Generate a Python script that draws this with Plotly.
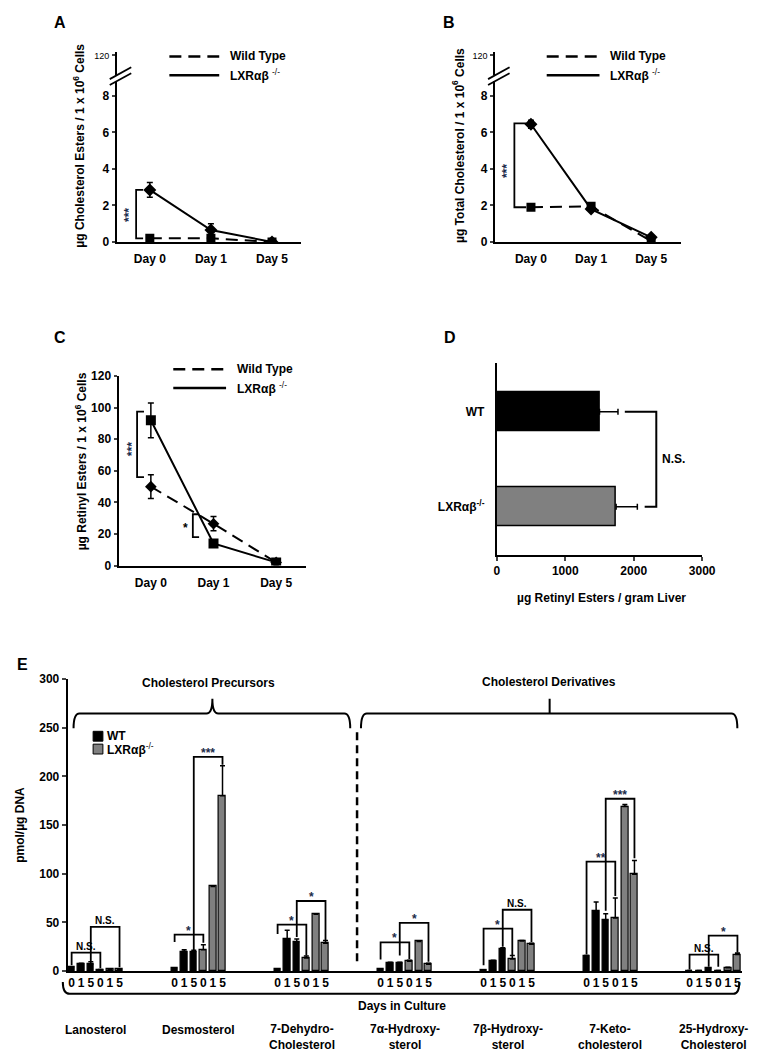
import plotly.graph_objects as go

W, H = 758, 1050

# ---- data ----
days = ["Day 0", "Day 1", "Day 5"]

# A: cholesterol esters (ug / 1e6 cells)
ce_wt = [0.2, 0.2, 0.0]
ce_wt_err = [0.05, 0.08, 0.02]
ce_ko = [2.85, 0.65, 0.0]
ce_ko_err = [0.4, 0.35, 0.05]

# B: total cholesterol
tc_wt = [1.9, 1.95, 0.05]
tc_wt_err = [0.1, 0.1, 0.05]
tc_ko = [6.45, 1.8, 0.25]
tc_ko_err = [0.22, 0.12, 0.1]

# C: retinyl esters
re_wt = [50, 26.5, 2]
re_wt_err = [7.5, 4.5, 1]
re_ko = [92, 14, 2]
re_ko_err = [11, 1, 1]

# D: whole liver retinyl esters
liver_groups = ["LXRαβ<sup>-/-</sup>", "WT"]
liver_re = [1743, 1500]
liver_re_err = [310, 270]

# E: sterols, pmol/ug DNA (days 0, 1, 5)
sterols = ["Lanosterol", "Desmosterol", "7-Dehydro-<br>Cholesterol", "7α-Hydroxy-<br>sterol",
           "7β-Hydroxy-<br>sterol", "7-Keto-<br>cholesterol", "25-Hydroxy-<br>Cholesterol"]
culture_days = ["0", "1", "5"]
sterol_wt = [[4, 7, 7], [3, 20, 20], [2, 33, 30], [2, 8, 8], [1, 10, 23], [15, 62, 52.5], [0.5, 0.5, 3]]
sterol_wt_err = [[0.5, 1, 2.5], [0.5, 2, 1.5], [0.3, 9, 3], [0.3, 1, 1], [0.3, 1, 1], [1, 9, 6.5], [0.2, 0.2, 0.5]]
sterol_ko = [[1.5, 2, 2], [22, 87, 180], [13.5, 58.5, 28.5], [10, 30.5, 7], [12.5, 31, 27.5], [54.5, 169, 99.5], [0.5, 3.5, 17]]
sterol_ko_err = [[0.2, 0.2, 0.2], [5, 0.5, 31], [2, 0.5, 3], [1, 0.3, 1], [3.5, 0.5, 1], [20.5, 2, 14], [0.2, 0.5, 1.5]]

# E significance brackets: group, day index (WT vs LXR), label, bracket height, leg bottoms
cmp_group = [0, 0, 1, 1, 2, 2, 3, 3, 4, 4, 5, 5, 6, 6]
cmp_day = [0, 2, 0, 2, 0, 2, 0, 2, 0, 2, 0, 2, 0, 2]
cmp_label = ["N.S.", "N.S.", "*", "***", "*", "*", "*", "*", "*", "N.S.", "**", "***", "N.S.", "*"]
cmp_height = [19, 45.5, 37.5, 220, 47.7, 72, 29.4, 49.6, 43.6, 63, 112.5, 177, 17, 36.5]
cmp_left_end = [6, 10, 30, 21, 38, 35, 12, 16, 6, 25, 17, 62, 1.5, 4.5]
cmp_right_end = [3, 4, 29, 212, 16, 32, 12.5, 9.5, 16, 30, 77, 116, 4.5, 19]

FONT = "Liberation Sans, Arial, sans-serif"
STAR_COL = "#1c2b4a"


def X(px):
    return px / W


def Y(py):
    return 1 - py / H


fig = go.Figure()

line_err = dict(type="data", thickness=1.5, width=3, color="black")


def add_lines(xa, ya, wt, wt_err, ko, ko_err, wt_sym, ko_sym):
    xs = list(range(len(days)))
    fig.add_trace(go.Scatter(x=xs, y=wt, mode="lines+markers", xaxis=xa, yaxis=ya,
                             line=dict(color="black", width=2, dash="12px,7px"),
                             marker=dict(symbol=wt_sym, size=9, color="black"),
                             error_y=dict(array=wt_err, **line_err), name="Wild Type"))
    fig.add_trace(go.Scatter(x=xs, y=ko, mode="lines+markers", xaxis=xa, yaxis=ya,
                             line=dict(color="black", width=2),
                             marker=dict(symbol=ko_sym, size=10, color="black"),
                             error_y=dict(array=ko_err, **line_err), name="LXRαβ -/-"))


add_lines("x", "y", ce_wt, ce_wt_err, ce_ko, ce_ko_err, "square", "diamond")
add_lines("x2", "y2", tc_wt, tc_wt_err, tc_ko, tc_ko_err, "square", "diamond")
add_lines("x3", "y3", re_wt, re_wt_err, re_ko, re_ko_err, "diamond", "square")

# D
fig.add_trace(go.Bar(y=[0, 1], x=liver_re, orientation="h", xaxis="x4", yaxis="y4", width=0.415,
                     marker=dict(color=["#808080", "black"], line=dict(color="black", width=1.5)),
                     error_x=dict(type="data", array=liver_re_err, arrayminus=[0, 0], symmetric=False,
                                  thickness=1.5, width=3, color="black")))

# E
P = 10.75
x_wt = [g * P + j for g in range(len(sterols)) for j in range(3)]
x_ko = [g * P + 3 + j for g in range(len(sterols)) for j in range(3)]
bar_err = dict(type="data", symmetric=False, thickness=1.5, width=2.5, color="black")
fig.add_trace(go.Bar(x=x_wt, y=[v for r in sterol_wt for v in r], xaxis="x5", yaxis="y5", width=0.7,
                     marker=dict(color="black", line=dict(color="black", width=1.2)),
                     error_y=dict(array=[v for r in sterol_wt_err for v in r], arrayminus=[0] * 21, **bar_err),
                     name="WT"))
fig.add_trace(go.Bar(x=x_ko, y=[v for r in sterol_ko for v in r], xaxis="x5", yaxis="y5", width=0.7,
                     marker=dict(color="#808080", line=dict(color="black", width=1.2)),
                     error_y=dict(array=[v for r in sterol_ko_err for v in r], arrayminus=[0] * 21, **bar_err),
                     name="LXRαβ-/-"))

shapes = []
annotations = []


def ann(text, x, y, xref="paper", yref="paper", size=12, **kw):
    d = dict(text=text, x=x, y=y, xref=xref, yref=yref, showarrow=False,
             xanchor="center", yanchor="middle",
             font=dict(family=FONT, size=size, color=kw.pop("color", "black")))
    d.update(kw)
    annotations.append(d)


def path_px(pts, **kw):
    # pts: list of (cmd, [(x,y),...]) in pixels
    s = ""
    for cmd, coords in pts:
        s += cmd + " " + " ".join(f"{X(a):.5f},{Y(b):.5f}" for a, b in coords) + " "
    shapes.append(dict(type="path", path=s.strip(), xref="paper", yref="paper",
                       line=dict(color="black", width=kw.get("width", 2))))


# panel letters
ann("<b>A</b>", X(50), Y(8), size=16)
ann("<b>B</b>", X(448), Y(8), size=16)
ann("<b>C</b>", X(50), Y(327), size=16)
ann("<b>D</b>", X(449), Y(327), size=16)
ann("<b>E</b>", X(12), Y(658), size=16)

# custom legends for A, B, C
for lx0, lx1, ly in [(162, 213, 42), (548, 602, 42), (166, 220, 359)]:
    shapes.append(dict(type="line", xref="paper", yref="paper", x0=X(lx0), x1=X(lx1), y0=Y(ly), y1=Y(ly),
                       line=dict(color="black", width=2.5, dash="12px,7px")))
    shapes.append(dict(type="line", xref="paper", yref="paper", x0=X(lx0), x1=X(lx1), y0=Y(ly + 19), y1=Y(ly + 19),
                       line=dict(color="black", width=2.5)))
    ann("<b>Wild Type</b>", X(lx1 + 9), Y(ly), xanchor="left")
    ann("<b>LXRαβ</b> <sup>-/-</sup>", X(lx1 + 9), Y(ly + 19), xanchor="left")

# axis breaks on A and B
for axx in [108, 495]:
    shapes.append(dict(type="rect", xref="paper", yref="paper", x0=X(axx - 3), x1=X(axx + 3),
                       y0=Y(67), y1=Y(61), fillcolor="white", line=dict(width=0)))
    for off in [0, 6]:
        shapes.append(dict(type="line", xref="paper", yref="paper", x0=X(axx - 7), y0=Y(65 + off),
                           x1=X(axx + 15), y1=Y(53 + off), line=dict(color="black", width=1.8)))

# y titles for A, B, C
ann("<b>µg Cholesterol Esters / 1 x 10<sup>6</sup> Cells</b>", X(70), Y(132), size=12, textangle=-90)
ann("<b>µg Total Cholesterol / 1 x 10<sup>6</sup> Cells</b>", X(458), Y(132), size=12, textangle=-90)
ann("<b>µg Retinyl Esters / 1 x 10<sup>6</sup> Cells</b>", X(72), Y(452), size=12, textangle=-90)


# vertical significance brackets on line panels
def vbracket(xa, ya, xb, arm, y0, y1, label, xl, yl, rot):
    shapes.append(dict(type="path", xref=xa, yref=ya,
                       path=f"M {arm},{y0} L {xb},{y0} L {xb},{y1} L {arm},{y1}",
                       line=dict(color="black", width=1.8)))
    ann(f"<b>{label}</b>", xl, yl, xref=xa, yref=ya, size=12, textangle=-90 if rot else 0,
        color=STAR_COL if rot else "black")


vbracket("x", "y", -0.224, -0.11, ce_wt[0], ce_ko[0], "***", -0.35, 1.5, True)
vbracket("x2", "y2", -0.276, -0.08, tc_wt[0], tc_ko[0] + 0.05, "***", -0.41, 3.9, True)
vbracket("x3", "y3", -0.22, -0.11, 56, 97.5, "***", -0.31, 74, True)
vbracket("x3", "y3", 0.67, 0.77, 18, 32.5, "*", 0.55, 24, False)

# D extras
ann("<b>Whole Liver</b>", 1430, 1.55, xref="x4", yref="y4")
shapes.append(dict(type="path", xref="x4", yref="y4",
                   path="M 1870,1 L 2330,1 L 2330,0 L 2160,0", line=dict(color="black", width=2)))
ann("<b>N.S.</b>", 2390, 0.5, xref="x4", yref="y4", xanchor="left")
ann("<b>µg Retinyl Esters / gram Liver</b>", X(604), Y(591))

# E extras
ann("<b>pmol/µg DNA</b>", X(9), Y(821), textangle=-90)
ann("<b>Cholesterol Precursors</b>", X(202), Y(677))
ann("<b>Cholesterol Derivatives</b>", X(550), Y(676))
path_px([("M", [(64, 723)]), ("Q", [(64, 708), (70, 708)]), ("L", [(200, 708)]),
         ("Q", [(206, 708), (206, 693)]), ("Q", [(206, 708), (212, 708)]), ("L", [(341, 708)]),
         ("Q", [(347, 708), (347, 723)])])
path_px([("M", [(358, 723)]), ("Q", [(358, 708), (364, 708)]), ("L", [(737, 708)]),
         ("Q", [(743, 708), (743, 723)]), ("M", [(551, 708)]), ("L", [(551, 693)])])
path_px([("M", [(53, 980)]), ("Q", [(53, 992), (60, 992)]), ("L", [(739, 992)]),
         ("Q", [(745, 992), (745, 980)])])
shapes.append(dict(type="line", xref="paper", yref="paper", x0=X(354), x1=X(354), y0=Y(727), y1=Y(962),
                   line=dict(color="black", width=2.5, dash="8px,5px")))
ann("<b>Days in Culture</b>", X(400), Y(1004))
for g, name in enumerate(sterols):
    ann(f"<b>{name}</b>", g * P + 2.5, Y(1036) if "<br>" in name else Y(1029), xref="x5", yref="paper")

# E legend
shapes.append(dict(type="rect", xref="paper", yref="paper", x0=X(84), x1=X(94), y0=Y(736), y1=Y(726),
                   fillcolor="black", line=dict(color="black", width=1)))
shapes.append(dict(type="rect", xref="paper", yref="paper", x0=X(84), x1=X(94), y0=Y(749), y1=Y(739),
                   fillcolor="#808080", line=dict(color="black", width=1)))
ann("<b>WT</b>", X(96), Y(731), xanchor="left")
ann("<b>LXRαβ</b><sup>-/-</sup>", X(96), Y(744), xanchor="left")

# E significance brackets
for g, j, lab, h, yl, yr in zip(cmp_group, cmp_day, cmp_label, cmp_height, cmp_left_end, cmp_right_end):
    xl = g * P + j
    xr = g * P + 3 + j
    shapes.append(dict(type="path", xref="x5", yref="y5",
                       path=f"M {xl},{yl} L {xl},{h} L {xr},{h} L {xr},{yr}",
                       line=dict(color="black", width=1.8)))
    if lab == "N.S.":
        ann(f"<b>{lab}</b>", (xl + xr) / 2, h, xref="x5", yref="y5", size=10, yanchor="bottom", yshift=-1)
    else:
        ann(f"<b>{lab}</b>", (xl + xr) / 2, h, xref="x5", yref="y5", size=12, yanchor="bottom",
            yshift=-5, color=STAR_COL)

axis_common = dict(showgrid=False, zeroline=False, showline=True, linecolor="black", linewidth=2,
                   tickfont=dict(family=FONT, size=12, color="black"))


def xday(dom, rng):
    return dict(domain=dom, range=rng, tickvals=[0, 1, 2], ticktext=[f"<b>{d}</b>" for d in days],
                ticks="", ticklabelstandoff=5, **axis_common)


def ybreak(dom, anchor):
    return dict(domain=dom, range=[0, 10.38], anchor=anchor, tickvals=[0, 2, 4, 6, 8, 10.27],
                ticktext=["<b>0</b>", "<b>2</b>", "<b>4</b>", "<b>6</b>", "<b>8</b>",
                          "<span style='font-size:9px'>120</span>"],
                ticks="outside", ticklen=3, tickwidth=1.5, **axis_common)


fig.update_layout(
    width=W, height=H, margin=dict(l=0, r=0, t=0, b=0),
    paper_bgcolor="white", plot_bgcolor="white", showlegend=False,
    font=dict(family=FONT, size=12, color="black"),
    bargap=0,
    xaxis=xday([X(108), X(297)], [-0.544, 2.48]) | dict(anchor="y"),
    yaxis=ybreak([Y(230), Y(38)], "x"),
    xaxis2=xday([X(495), X(685)], [-0.60, 2.49]) | dict(anchor="y2"),
    yaxis2=ybreak([Y(230), Y(38)], "x2"),
    xaxis3=xday([X(110), X(302)], [-0.516, 2.48]) | dict(anchor="y3"),
    yaxis3=dict(domain=[Y(558), Y(366)], range=[0, 120], anchor="x3", tickvals=list(range(0, 121, 20)),
                ticktext=[f"<b>{v}</b>" for v in range(0, 121, 20)],
                ticks="outside", ticklen=3, tickwidth=1.5, **axis_common),
    xaxis4=dict(domain=[X(497), X(707)], range=[0, 3000], anchor="y4", tickvals=[0, 1000, 2000, 3000],
                ticktext=["<b>0</b>", "<b>1000</b>", "<b>2000</b>", "<b>3000</b>"],
                ticks="outside", ticklen=4, tickwidth=1.5, **axis_common),
    yaxis4=dict(domain=[Y(547), Y(353)], range=[-0.503, 1.508], anchor="x4", tickvals=[0, 1],
                ticktext=[f"<b>{g}</b>" for g in liver_groups], ticks="", ticklabelstandoff=8,
                **axis_common),
    xaxis5=dict(domain=[X(58), X(748)], range=[-0.41, 70.0], anchor="y5",
                tickvals=sorted(x_wt + x_ko),
                ticktext=[f"<b>{d}</b>" for _ in sterols for _g in range(2) for d in culture_days],
                ticks="", **axis_common),
    yaxis5=dict(domain=[Y(969), Y(673)], range=[0, 300], anchor="x5", tickvals=list(range(0, 301, 50)),
                ticktext=[f"<b>{v}</b>" for v in range(0, 301, 50)],
                ticks="outside", ticklen=4, tickwidth=1.5, **axis_common),
    shapes=shapes,
    annotations=annotations,
)

fig.write_html("out.html")
